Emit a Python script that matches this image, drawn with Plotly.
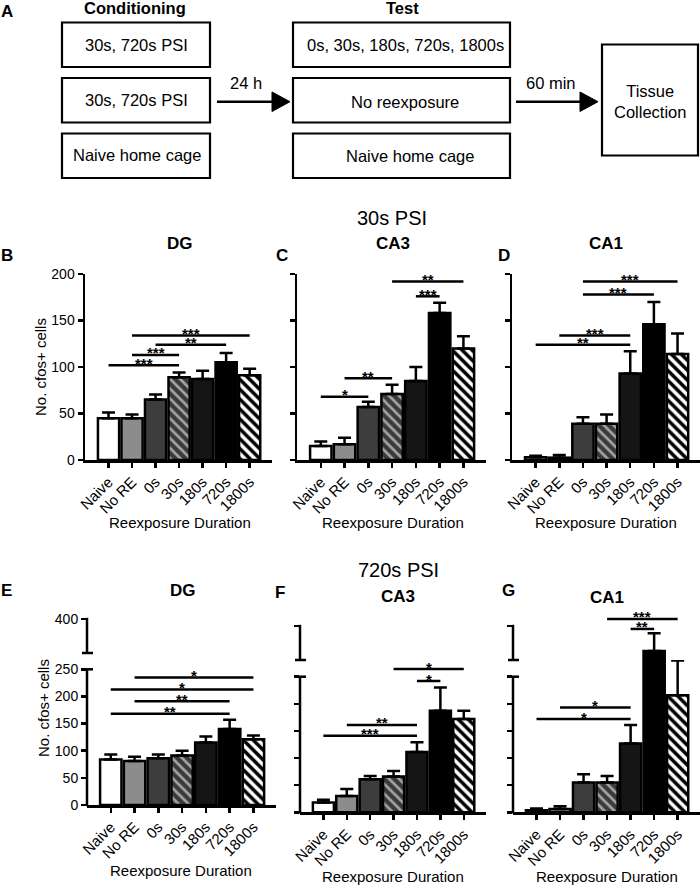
import plotly.graph_objects as go

W, H = 700, 885
FONT = "Liberation Sans, Arial, Helvetica, sans-serif"

# ---------------- data ----------------
categories = ["Naive", "No RE", "0s", "30s", "180s", "720s", "1800s"]

# 30s PSI (mean, SEM)
dg_30s_mean = [45, 45, 65, 89, 87, 105, 91]
dg_30s_sem = [6, 4, 5.5, 5, 9, 10, 7]
ca3_30s_mean = [15, 17, 57, 71, 85, 158, 120]
ca3_30s_sem = [5, 7, 5.5, 10, 15, 11, 13]
ca1_30s_mean = [3, 2.5, 39, 39, 93, 146, 114]
ca1_30s_sem = [1.5, 3, 7, 10, 24, 24, 22]

# 720s PSI (mean, SEM)
dg_720s_mean = [84, 81, 86, 91, 115, 140, 121]
dg_720s_sem = [9, 8, 7, 9, 11, 17, 7]
ca3_720s_mean = [18, 30, 61, 66, 111, 187, 172]
ca3_720s_sem = [5, 13, 6, 10, 18, 43, 15]
ca1_720s_mean = [4, 6, 55, 55, 127, 290, 216]
ca1_720s_sem = [3, 5, 15, 12, 34, 78, 64]

# significance comparisons: (group a, group b, label, bracket height)
dg_30s_sig = [(0, 3, "***", 102), (1, 3, "***", 113), (2, 5, "**", 124), (1, 6, "***", 134)]
ca3_30s_sig = [(0, 2, "*", 68), (1, 3, "**", 88), (4, 5, "***", 176), (3, 6, "**", 192)]
ca1_30s_sig = [(0, 4, "**", 124), (1, 4, "***", 134), (2, 5, "***", 178), (2, 6, "***", 192)]
dg_720s_sig = [(0, 5, "**", 168), (1, 5, "**", 191), (0, 6, "*", 213), (1, 6, "*", 235)]
ca3_720s_sig = [(0, 4, "***", 141), (1, 4, "**", 161), (4, 5, "*", 242), (3, 6, "*", 264)]
ca1_720s_sig = [(0, 4, "*", 172), (1, 4, "*", 193), (4, 5, "**", 387), (3, 6, "***", 431)]

top_ticks = [0, 50, 100, 150, 200]
bottom_ticks = [0, 50, 100, 150, 200, 250]
break_low = 250      # end of lower axis segment
break_high = 400     # end of upper axis segment

# ---------------- styles ----------------
fill_colors = ["#ffffff", "#8c8c8c", "#3d3d3d", "#3a3a3a", "#151515", "#000000", "#ffffff"]
pattern_shapes = ["", "", "", "\\", "", "", "\\"]
pattern_fg = ["#000000", "#000000", "#000000", "#a3a3a3", "#000000", "#000000", "#000000"]
pattern_solidity = [0.5, 0.5, 0.5, 0.38, 0.5, 0.5, 0.5]
LW = 2.5


def px(x):
    return x / W


def py(y):
    return 1 - y / H


fig = go.Figure()


def add_bars(mean, sem, xref, yref, keep=None):
    if keep is None:
        keep = [True] * len(mean)
    hatched = [s != "" for s in pattern_shapes]
    # plain bars
    fig.add_trace(go.Bar(
        x=categories, y=[m if (k and not h) else None for m, k, h in zip(mean, keep, hatched)],
        width=0.9, xaxis=xref, yaxis=yref,
        marker=dict(color=fill_colors, line=dict(color="black", width=LW)),
        error_y=dict(type="data", symmetric=False, array=sem, arrayminus=[0] * len(sem),
                     color="black", thickness=LW, width=6.5),
        showlegend=False, hoverinfo="skip"))
    # hatched bars
    fig.add_trace(go.Bar(
        x=categories, y=[m if (k and h) else None for m, k, h in zip(mean, keep, hatched)],
        width=0.9, xaxis=xref, yaxis=yref,
        marker=dict(color="#ffffff", line=dict(color="black", width=LW),
                    pattern=dict(shape=pattern_shapes, fgcolor=pattern_fg, bgcolor=fill_colors,
                                 size=7, solidity=pattern_solidity, fillmode="replace")),
        error_y=dict(type="data", symmetric=False, array=sem, arrayminus=[0] * len(sem),
                     color="black", thickness=LW, width=6.5),
        showlegend=False, hoverinfo="skip"))


def add_sig(sig, xref, yref, yref_upper=None, lower_top=None):
    for a, b, label, h in sig:
        yr = yref if (yref_upper is None or h <= lower_top) else yref_upper
        fig.add_shape(type="line", xref=xref, yref=yr, x0=a, x1=b, y0=h, y1=h,
                      line=dict(color="black", width=LW))
        fig.add_annotation(xref=xref, yref=yr, x=(a + b) / 2, y=h, text="<b>%s</b>" % label,
                           showarrow=False, yanchor="middle", yshift=2,
                           font=dict(size=15, color="black", family=FONT))


def pline(x0, y0, x1, y1, w=LW):
    fig.add_shape(type="line", xref="paper", yref="paper", x0=px(x0), y0=py(y0),
                  x1=px(x1), y1=py(y1), line=dict(color="black", width=w))


def text(x, y, s, size=16, anchor="center", angle=0):
    fig.add_annotation(xref="paper", yref="paper", x=px(x), y=py(y), text=s, showarrow=False,
                       xanchor=anchor, yanchor="middle", textangle=angle,
                       font=dict(size=size, color="black", family=FONT))


def key(ref):
    return ref[0] + "axis" + ref[1:]


layout_axes = {}


def xaxis(ref, x0, x1, anchor):
    layout_axes[key(ref)] = dict(
        domain=[px(x0), px(x1)], anchor=anchor, type="category",
        categoryorder="array", categoryarray=categories, range=[-1, 6.95],
        showline=True, linecolor="black", linewidth=LW, ticks="outside", ticklen=5,
        tickwidth=LW, tickcolor="black", tickangle=-45,
        tickfont=dict(size=15, color="black", family=FONT),
        showgrid=False, zeroline=False, automargin=False, fixedrange=True)


def yaxis(ref, ybot, ytop, rng, anchor, tickvals, labels, showline):
    layout_axes[key(ref)] = dict(
        domain=[py(ybot), py(ytop)], anchor=anchor, range=rng,
        showline=showline, linecolor="black", linewidth=LW,
        ticks="outside", ticklen=5, tickwidth=LW, tickcolor="black",
        tickvals=tickvals, showticklabels=labels,
        tickfont=dict(size=14, color="black", family=FONT),
        showgrid=False, zeroline=False, automargin=False, fixedrange=True)


# ---------------- top row (30s PSI) ----------------
TOP_Y0, TOP_Y1 = 460, 274
top_panels = [
    ("x", "y", 85, 272, dg_30s_mean, dg_30s_sem, dg_30s_sig, True),
    ("x2", "y2", 297, 486, ca3_30s_mean, ca3_30s_sem, ca3_30s_sig, False),
    ("x3", "y3", 512, 700, ca1_30s_mean, ca1_30s_sem, ca1_30s_sig, False),
]
for xr, yr, x0, x1, m, s, sig, lab in top_panels:
    xaxis(xr, x0, x1, yr)
    yaxis(yr, TOP_Y0, TOP_Y1, [0, 200], xr, top_ticks, lab, True)
    add_bars(m, s, xr, yr)
    add_sig(sig, xr, yr)

# ---------------- bottom row (720s PSI), broken axis ----------------
SEG = 34  # pixel height of upper segment
bottom_panels = [
    ("x4", "y4", "y7", 87, 276, 805.0, 669.3, 653.0, dg_720s_mean, dg_720s_sem, dg_720s_sig, True),
    ("x5", "y5", "y8", 300, 486, 812.3, 676.7, 660.0, ca3_720s_mean, ca3_720s_sem, ca3_720s_sig, False),
    ("x6", "y6", "y9", 513, 700, 812.3, 676.7, 660.0, ca1_720s_mean, ca1_720s_sem, ca1_720s_sig, False),
]
for xr, yr, yu, x0, x1, y0, y250, ycut, m, s, sig, lab in bottom_panels:
    ppu = (y0 - y250) / break_low
    lower_top = (y0 - ycut) / ppu
    upu = (break_high - break_low) / SEG
    ytop_ext = 600.0
    upper_top = break_low + (ycut - ytop_ext) * upu
    xaxis(xr, x0, x1, yr)
    yaxis(yr, y0, ycut, [0, lower_top], xr, bottom_ticks, lab, False)
    yaxis(yu, ycut, ytop_ext, [break_low, upper_top], xr, [break_high], lab, False)
    add_bars(m, s, xr, yr)
    add_bars(m, s, xr, yu, keep=[v > lower_top for v in m])
    add_sig(sig, xr, yr, yu, lower_top)
    # axis line segments and break caps
    pline(x0, y0 + 1.2, x0, y250)
    pline(x0 - 5, y250, x0 + 6, y250)
    pline(x0, ycut, x0, ycut - SEG - 1.2)
    pline(x0 - 5, ycut, x0 + 6, ycut)

# ---------------- panel A: schematic ----------------
def box(x0, y0, x1, y1):
    fig.add_shape(type="rect", xref="paper", yref="paper", x0=px(x0), x1=px(x1),
                  y0=py(y0), y1=py(y1), line=dict(color="black", width=2.2),
                  fillcolor="rgba(0,0,0,0)")


rows = [(22.5, 67), (78, 122.5), (133.5, 178)]
for r0, r1 in rows:
    box(62, r0, 210, r1)
    box(293, r0, 510, r1)
box(602, 44.5, 698, 155.5)

# arrows
pline(217, 101.7, 276, 101.7)
pline(516, 101.7, 584, 101.7)
for tip in (290, 598):
    fig.add_shape(type="path", xref="paper", yref="paper", fillcolor="black",
                  line=dict(color="black", width=1),
                  path="M %f,%f L %f,%f L %f,%f Z" % (px(tip - 18), py(92), px(tip), py(101.7),
                                                    px(tip - 18), py(111.5)))

text(6.5, 11.7, "<b>A</b>", 17)
text(135, 8, "<b>Conditioning</b>", 16.5)
text(402, 8, "<b>Test</b>", 16.5)
text(136, 44.5, "30s, 720s PSI", 16.5)
text(136, 99.5, "30s, 720s PSI", 16.5)
text(137, 155, "Naive home cage", 16.5)
text(405, 44.5, "0s, 30s, 180s, 720s, 1800s", 16.5)
text(405, 101.5, "No reexposure", 16.5)
text(410, 156, "Naive home cage", 16.5)
text(246, 83.3, "24 h", 16.5)
text(551, 83.3, "60 min", 16.5)
text(650, 102, "Tissue<br>Collection", 16.5)

# ---------------- panel titles / labels ----------------
text(392, 218, "30s PSI", 20)
text(6.5, 256, "<b>B</b>", 17)
text(180, 244, "<b>DG</b>", 17)
text(281.7, 256, "<b>C</b>", 17)
text(393, 244, "<b>CA3</b>", 17)
text(504, 256, "<b>D</b>", 17)
text(606, 244, "<b>CA1</b>", 17)

text(398, 570, "720s PSI", 20)
text(6.5, 590, "<b>E</b>", 17)
text(183, 590, "<b>DG</b>", 17)
text(280, 592, "<b>F</b>", 17)
text(398, 596, "<b>CA3</b>", 17)
text(508, 590, "<b>G</b>", 17)
text(607, 597, "<b>CA1</b>", 17)

text(40, 367, "No. cfos+ cells", 15, angle=-90)
text(43, 708, "No. cfos+ cells", 15, angle=-90)

for cx, cy in [(180, 522), (392.7, 522), (606, 522), (181, 870), (392.7, 876), (606.7, 876)]:
    text(cx, cy, "Reexposure Duration", 15)

fig.update_layout(
    template="none", width=W, height=H, autosize=False,
    margin=dict(l=0, r=0, t=0, b=0, pad=0),
    paper_bgcolor="white", plot_bgcolor="white",
    font=dict(family=FONT, color="black"),
    barmode="overlay", showlegend=False,
    **layout_axes)

fig.write_html(
    "out.html",
    config={"displayModeBar": False, "staticPlot": True},
    post_script="document.body.style.margin='0';document.body.style.overflow='hidden';"
                "document.documentElement.style.overflow='hidden';")
